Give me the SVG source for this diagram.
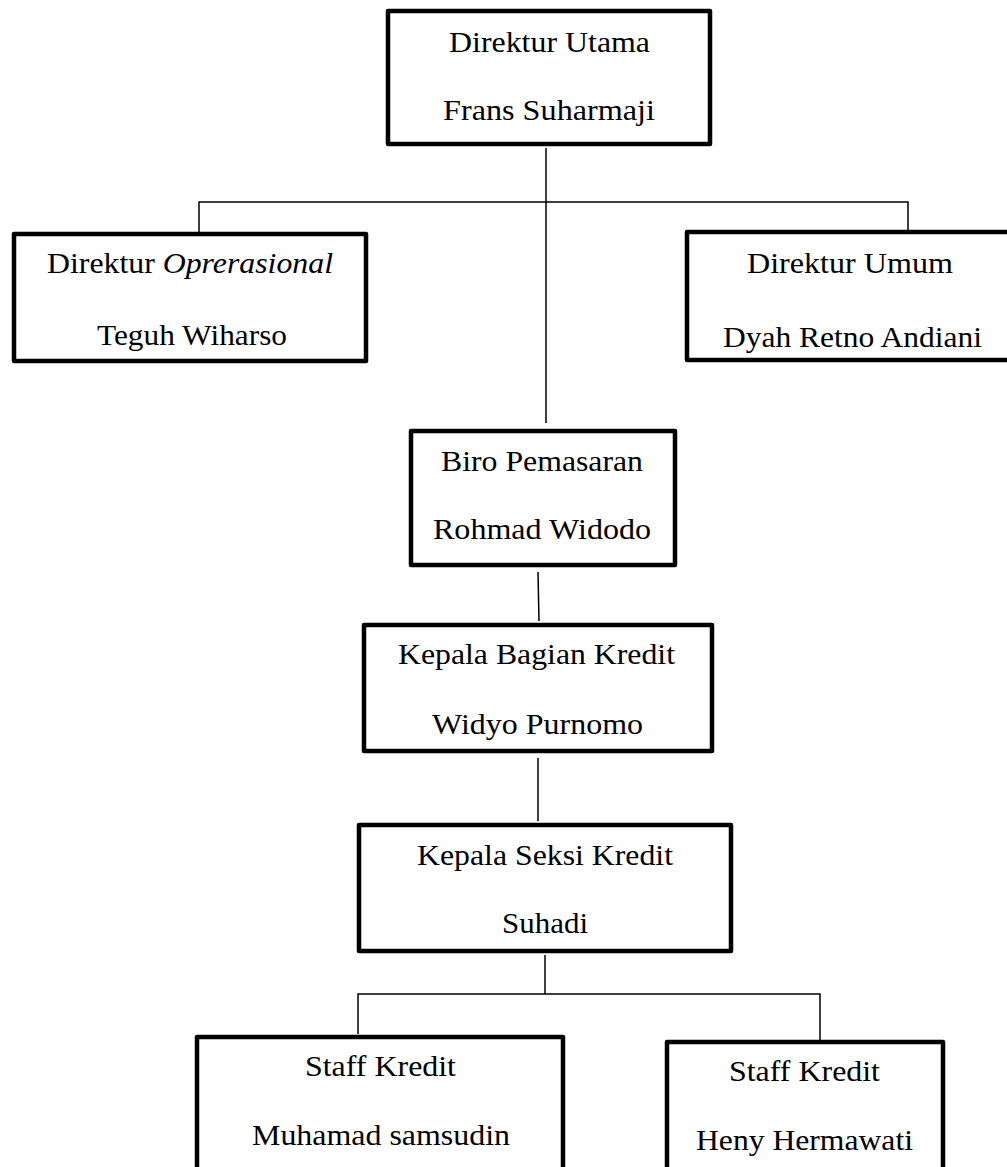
<svg xmlns="http://www.w3.org/2000/svg" width="1007" height="1167" viewBox="0 0 1007 1167">
<style>
.box{fill:#fff;stroke:#000;stroke-width:4.5;stroke-linejoin:round}
.t{font-family:"Liberation Serif","Times New Roman",Tinos,serif;font-size:30px;fill:#000;text-anchor:middle}
.c{fill:none;stroke:#000;stroke-width:1.5}
</style>
<rect width="1007" height="1167" fill="#fff"/>
<g id="connectors">
<path class="c" d="M546,148 V423"/>
<path class="c" d="M199,232 V202 H908 V230"/>
<path class="c" d="M538,572 L539,621"/>
<path class="c" d="M538,758 V821"/>
<path class="c" d="M545,955 V994"/>
<path class="c" d="M358,1034 V994 H820 V1040"/>
</g>
<g id="direktur-utama">
<rect class="box" x="388" y="11" width="322" height="133"/>
<text class="t" x="549.5" y="52" textLength="201" lengthAdjust="spacingAndGlyphs">Direktur Utama</text>
<text class="t" x="549" y="120" textLength="212" lengthAdjust="spacingAndGlyphs">Frans Suharmaji</text>
</g>
<g id="direktur-operasional">
<rect class="box" x="14" y="234" width="352" height="127"/>
<text class="t" x="190" y="273" textLength="286" lengthAdjust="spacingAndGlyphs">Direktur <tspan font-style="italic">Oprerasional</tspan></text>
<text class="t" x="192" y="345" textLength="190" lengthAdjust="spacingAndGlyphs">Teguh Wiharso</text>
</g>
<g id="direktur-umum">
<rect class="box" x="687" y="232" width="340" height="128"/>
<text class="t" x="850" y="273" textLength="206" lengthAdjust="spacingAndGlyphs">Direktur Umum</text>
<text class="t" x="852.5" y="347" textLength="259" lengthAdjust="spacingAndGlyphs">Dyah Retno Andiani</text>
</g>
<g id="biro-pemasaran">
<rect class="box" x="411" y="431" width="264" height="134"/>
<text class="t" x="542" y="471" textLength="202" lengthAdjust="spacingAndGlyphs">Biro Pemasaran</text>
<text class="t" x="542" y="539" textLength="218" lengthAdjust="spacingAndGlyphs">Rohmad Widodo</text>
</g>
<g id="kepala-bagian-kredit">
<rect class="box" x="364" y="625" width="348" height="126"/>
<text class="t" x="536.5" y="664" textLength="277" lengthAdjust="spacingAndGlyphs">Kepala Bagian Kredit</text>
<text class="t" x="537.5" y="734" textLength="211" lengthAdjust="spacingAndGlyphs">Widyo Purnomo</text>
</g>
<g id="kepala-seksi-kredit">
<rect class="box" x="359" y="825" width="372" height="126"/>
<text class="t" x="545" y="865" textLength="256" lengthAdjust="spacingAndGlyphs">Kepala Seksi Kredit</text>
<text class="t" x="545" y="933" textLength="86" lengthAdjust="spacingAndGlyphs">Suhadi</text>
</g>
<g id="staff-kredit-1">
<rect class="box" x="197" y="1037" width="366" height="150"/>
<text class="t" x="380.5" y="1076" textLength="151" lengthAdjust="spacingAndGlyphs">Staff Kredit</text>
<text class="t" x="381" y="1145" textLength="258" lengthAdjust="spacingAndGlyphs">Muhamad samsudin</text>
</g>
<g id="staff-kredit-2">
<rect class="box" x="667" y="1042" width="276" height="150"/>
<text class="t" x="804.5" y="1081" textLength="151" lengthAdjust="spacingAndGlyphs">Staff Kredit</text>
<text class="t" x="804.5" y="1150" textLength="217" lengthAdjust="spacingAndGlyphs">Heny Hermawati</text>
</g>
</svg>
